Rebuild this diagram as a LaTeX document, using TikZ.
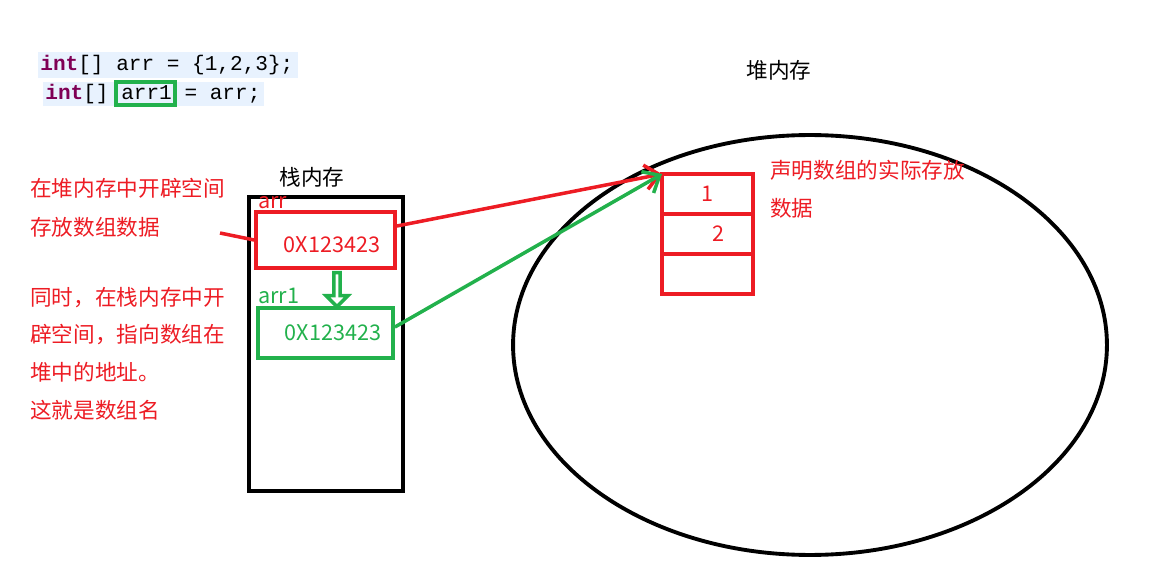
\documentclass[tikz,border=0pt]{standalone}
\usepackage{fontspec}
\setmainfont{Noto Sans CJK SC}
\newfontfamily\codefont{Liberation Mono}
\usetikzlibrary{positioning,calc,arrows.meta,shapes.geometric,shapes.arrows}
\definecolor{myred}{RGB}{237,28,36}
\definecolor{mygreen}{RGB}{34,177,76}
\definecolor{codebg}{RGB}{232,242,254}
\definecolor{kw}{RGB}{127,0,85}
\tikzset{
	px/.style={x=0.02cm,y=-0.02cm},
	big/.style={font=\fontsize{12.3}{14}\selectfont},
	note/.style={big,anchor=west,text=myred,inner sep=0},
	cell/.style={big,draw=myred,line width=2.2pt,outer sep=0,minimum width=1.82cm,minimum height=0.8cm,inner sep=0,text=myred},
	ptr/.style={line width=2pt,-{Straight Barb[length=8pt,width=14pt,line width=2pt]}},
	code/.style={anchor=west,inner sep=0,font=\codefont\fontsize{12}{14}\selectfont}
}
\begin{document}
\begin{tikzpicture}[px]
	\useasboundingbox (0,0) rectangle (1162,577);
	%code lines
	\fill[codebg] (38,52) rectangle (298,78);
	\fill[codebg] (43,82) rectangle (264,106);
	\node[code] (line1) at (40,65) {\textcolor{kw}{\textbf{int}}[] arr = \{1,2,3\};};
	\node[code] (line2) at (45,94) {\textcolor{kw}{\textbf{int}}[] arr1 = arr;};
	\draw[mygreen,line width=2pt] (116,82) rectangle (175,105);
	%stack
	\node[draw,line width=2.2pt,minimum width=3.08cm,minimum height=5.88cm,inner sep=0] (stack) at (326,344) {};
	\node[big] (stacklbl) at (312,177) {栈内存};
	\node[note] (arrlbl) at (258,203) {arr};
	\node[draw=myred,line width=2.2pt,minimum width=2.78cm,minimum height=1.12cm,inner sep=0] (arr) at (325.5,240) {};
	\node[big,text=myred] (arrval) at (332,245) {0X123423};
	\node[note,text=mygreen] (arr1lbl) at (258,296) {arr1};
	\node[draw=mygreen,line width=2.2pt,minimum width=2.7cm,minimum height=1.0cm,inner sep=0] (arr1) at (325.5,333) {};
	\node[big,text=mygreen] (arr1val) at (333,333) {0X123423};
	\node[single arrow,draw=mygreen,line width=2pt,shape border rotate=270,minimum height=0.68cm,minimum width=0.44cm,single arrow head extend=0.09cm,inner sep=0] (copy) at (337,288) {};
	%notes
	\node[note] (n1) at (30,188) {在堆内存中开辟空间};
	\node[note] (n2) at (30,227) {存放数组数据};
	\node[note] (n3) at (30,298) {同时，在栈内存中开};
	\node[note] (n4) at (30,335) {辟空间，指向数组在};
	\node[note] (n5) at (30,372) {堆中的地址。};
	\node[note] (n6) at (30,410) {这就是数组名};
	\coordinate (mark) at (220,233);
	\draw[myred,line width=2pt] (mark) -- (arr.west);
	%heap
	\node[draw,ellipse,line width=2.2pt,minimum width=11.88cm,minimum height=8.4cm] (heap) at (810,345) {};
	\node[big] (heaplbl) at (779,70) {堆内存};
	\node[cell] (c1) at (707.5,194) {1};
	\node[cell,below=0pt of c1] (c2) {\hspace{12pt}2};
	\node[cell,below=0pt of c2] (c3) {};
	\node[note] (n7) at (770,170) {声明数组的实际存放};
	\node[note] (n8) at (770,208) {数据};
	%pointers
	\draw[ptr,myred] (arr.east) ++(0,-14) -- (c1.north west);
	\draw[ptr,mygreen] (arr1.east) ++(0,-6) -- (c1.north west);
\end{tikzpicture}
\end{document}
